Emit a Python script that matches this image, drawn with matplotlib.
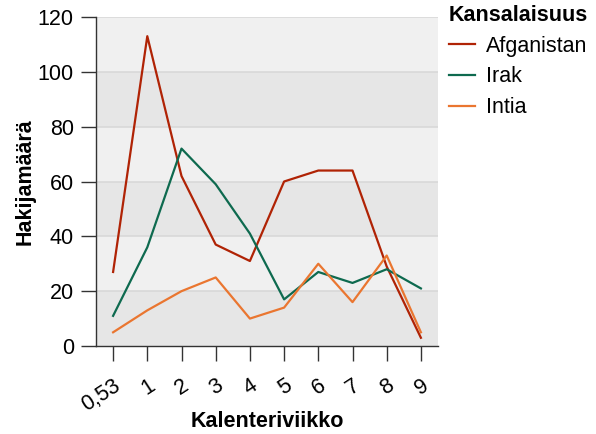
import numpy as np
import matplotlib.pyplot as plt

plt.rcParams['font.family'] = ['Liberation Sans', 'DejaVu Sans']

weeks = ['0,53', '1', '2', '3', '4', '5', '6', '7', '8', '9']
afganistan = [27, 113, 62, 37, 31, 60, 64, 64, 29, 3]
irak = [11, 36, 72, 59, 41, 17, 27, 23, 28, 21]
intia = [5, 13, 20, 25, 10, 14, 30, 16, 33, 5]
series_names = ['Afganistan', 'Irak', 'Intia']
colors = ['#b02305', '#0e6a4f', '#ea7630']

fs = 15.5

fig = plt.figure(figsize=(5.96, 4.34), dpi=100)
ax = fig.add_axes([96/596, 1-346/434, 342/596, 329/434])

# alternating bands
for lo in range(0, 120, 20):
    c = '#e6e6e6' if (lo // 20) % 2 == 0 else '#f0f0f0'
    ax.axhspan(lo, lo + 20, color=c, zorder=0, lw=0)
for y in range(20, 121, 20):
    ax.axhline(y, color='#d8d8d8', lw=1.2, zorder=1)

x = np.arange(len(weeks))
for vals, name, c in zip([afganistan, irak, intia], series_names, colors):
    ax.plot(x, vals, color=c, lw=1.6, label=name, zorder=3)

ax.set_xlim(-0.5, len(weeks) - 0.5)
ax.set_ylim(0, 120)
ax.set_yticks(range(0, 121, 20))
ax.set_xticks(x)
ax.set_xticklabels(weeks, rotation=33, ha='right', rotation_mode='anchor')
ax.tick_params(axis='both', labelsize=fs, length=11, width=1, color='#333333', pad=5)
ax.tick_params(axis='x', pad=10)
for s in ['top', 'right']:
    ax.spines[s].set_visible(False)
for s in ['left', 'bottom']:
    ax.spines[s].set_color('#333333')
    ax.spines[s].set_linewidth(1)

ax.set_ylabel('Hakijamäärä', fontsize=fs, fontweight='bold', va='center')
ax.yaxis.set_label_coords(-0.208, 0.5)
ax.set_xlabel('Kalenteriviikko', fontsize=fs, fontweight='bold', va='center')
ax.xaxis.set_label_coords(0.5, -0.228)

leg = fig.legend(loc='upper left', bbox_to_anchor=(449/596, 1-5/434), frameon=False,
                 fontsize=fs, title='Kansalaisuus', handlelength=1.2,
                 handletextpad=0.5, labelspacing=0.45, alignment='left',
                 borderaxespad=0, borderpad=0)
leg.get_title().set_fontweight('bold')
leg.get_title().set_fontsize(fs)

fig.savefig('out.png', dpi=100)
